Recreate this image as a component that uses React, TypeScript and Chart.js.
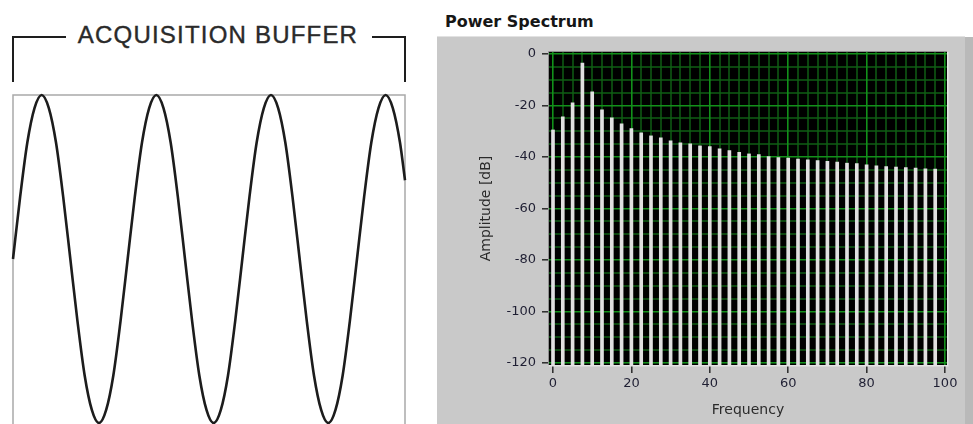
import React, { useEffect, useRef } from 'react';
import { Chart, registerables } from 'chart.js';

Chart.register(...registerables);

// ---------- Left chart: acquisition buffer (x in 1/16 cycle units, normalized amplitude) ----------
const bufferTimes = [
  0, 1, 2, 3, 4, 5, 6, 7, 8, 9, 10, 11, 12, 13, 14, 15,
  16, 17, 18, 19, 20, 21, 22, 23, 24, 25, 26, 27, 28, 29, 30, 31,
  32, 33, 34, 35, 36, 37, 38, 39, 40, 41, 42, 43, 44, 45, 46, 47,
  48, 49, 50, 51, 52, 53, 54, 54.7,
];
const bufferValues = [
  0, 0.38, 0.71, 0.92, 1, 0.92, 0.71, 0.38, 0, -0.38, -0.71, -0.92, -1, -0.92, -0.71, -0.38,
  0, 0.38, 0.71, 0.92, 1, 0.92, 0.71, 0.38, 0, -0.38, -0.71, -0.92, -1, -0.92, -0.71, -0.38,
  0, 0.38, 0.71, 0.92, 1, 0.92, 0.71, 0.38, 0, -0.38, -0.71, -0.92, -1, -0.92, -0.71, -0.38,
  0, 0.38, 0.71, 0.92, 1, 0.92, 0.71, 0.48,
];

// ---------- Right chart: power spectrum ----------
const freqBins = [
  0, 2.5, 5, 7.5, 10, 12.5, 15, 17.5, 20, 22.5, 25, 27.5, 30, 32.5, 35, 37.5,
  40, 42.5, 45, 47.5, 50, 52.5, 55, 57.5, 60, 62.5, 65, 67.5, 70, 72.5, 75, 77.5,
  80, 82.5, 85, 87.5, 90, 92.5, 95, 97.5,
];
const amplitudeDb = [
  -29.5, -24.4, -19, -3.5, -14.7, -21.7, -24.8, -27.1, -29, -30.6, -31.8, -32.6, -33.7, -34.5, -34.9, -35.7,
  -36, -36.8, -37.5, -38.2, -38.8, -39.1, -39.8, -40.2, -40.4, -40.8, -41.1, -41.4, -41.7, -42, -42.4, -42.6,
  -43, -43.4, -43.7, -43.9, -44.1, -44.3, -44.6, -44.7,
];
const xTickValues = [0, 20, 40, 60, 80, 100];
const xTickLabels = ['0', '20', '40', '60', '80', '100'];
const yTickValues = [0, -20, -40, -60, -80, -100, -120];
const yTickLabels = ['0', '-20', '-40', '-60', '-80', '-100', '-120'];
const xMajorStep = 20;
const yMajorStep = 20;
const xMinorStep = 2.5;
const yMinorStep = 5;

const X_MIN = -1.02;
const X_MAX = 100.51;
const Y_MIN = -120.78;
const Y_MAX = 0.78;

const MAJOR_GRID = '#12901a';
const MINOR_GRID = '#0f5e14';
const TICK_COLOR = '#2a2a2a';
const LABEL_COLOR = '#1f1f33';
const HIDDEN = 'rgba(0,0,0,0)';

function labelFor(values: number[], labels: string[], v: number): string {
  const i = values.findIndex((t) => Math.abs(t - v) < 1e-6);
  return i >= 0 ? labels[i] : '';
}
function isMajor(values: number[], v: number): boolean {
  return values.some((t) => Math.abs(t - v) < 1e-6);
}
function onStep(v: number, step: number): boolean {
  return Math.abs(v / step - Math.round(v / step)) < 1e-6;
}

function BufferChart() {
  const ref = useRef<HTMLCanvasElement | null>(null);
  useEffect(() => {
    if (!ref.current) return;
    const boxPlugin = {
      id: 'boxPlugin',
      beforeDatasetsDraw(chart: any) {
        const { ctx, chartArea } = chart;
        ctx.save();
        ctx.strokeStyle = '#a9a9a9';
        ctx.lineWidth = 1.5;
        ctx.beginPath();
        ctx.moveTo(chartArea.left, chartArea.bottom + 5);
        ctx.lineTo(chartArea.left, chartArea.top);
        ctx.lineTo(chartArea.right, chartArea.top);
        ctx.lineTo(chartArea.right, chartArea.bottom + 5);
        ctx.stroke();
        ctx.restore();
      },
    };
    const chart = new Chart(ref.current, {
      type: 'line',
      data: {
        datasets: [
          {
            data: bufferTimes.map((t, i) => ({ x: t, y: bufferValues[i] })),
            borderColor: '#1c1c1c',
            borderWidth: 2.6,
            pointRadius: 0,
            cubicInterpolationMode: 'monotone',
            clip: false as any,
          },
        ],
      },
      options: {
        animation: false,
        responsive: false,
        layout: { padding: { left: 13, right: 15, top: 10, bottom: 1 } },
        plugins: { legend: { display: false }, tooltip: { enabled: false } },
        scales: {
          x: { type: 'linear', min: 0, max: 54.7, display: false },
          y: { type: 'linear', min: -1, max: 1, display: false },
        },
      },
      plugins: [boxPlugin],
    });
    return () => chart.destroy();
  }, []);
  return (
    <canvas
      ref={ref}
      width={420}
      height={339}
      style={{ position: 'absolute', left: 0, top: 85, width: 420, height: 339 }}
    />
  );
}

function SpectrumChart() {
  const ref = useRef<HTMLCanvasElement | null>(null);
  useEffect(() => {
    if (!ref.current) return;
    const bgPlugin = {
      id: 'plotBg',
      beforeDraw(chart: any) {
        const { ctx, chartArea } = chart;
        const { left, right, top, bottom } = chartArea;
        ctx.save();
        ctx.fillStyle = '#000000';
        ctx.fillRect(left, top, right - left, bottom - top);
        // minor grid (between the library's major grid lines)
        const xs = chart.scales.x;
        const ys = chart.scales.y;
        ctx.strokeStyle = MINOR_GRID;
        ctx.lineWidth = 1.5;
        ctx.beginPath();
        for (let v = 0; v <= 100 + 1e-9; v += xMinorStep) {
          if (onStep(v, xMajorStep)) continue;
          const px = Math.round(xs.getPixelForValue(v));
          ctx.moveTo(px, top);
          ctx.lineTo(px, bottom);
        }
        for (let v = -120; v <= 0 + 1e-9; v += yMinorStep) {
          if (onStep(v, yMajorStep)) continue;
          const py = Math.round(ys.getPixelForValue(v));
          ctx.moveTo(left, py);
          ctx.lineTo(right, py);
        }
        ctx.stroke();
        ctx.restore();
      },
      afterDraw(chart: any) {
        const { ctx, chartArea } = chart;
        ctx.save();
        ctx.strokeStyle = '#e4e4e4';
        ctx.lineWidth = 1.5;
        ctx.beginPath();
        ctx.moveTo(chartArea.right + 0.75, chartArea.top);
        ctx.lineTo(chartArea.right + 0.75, chartArea.bottom + 0.75);
        ctx.lineTo(chartArea.left, chartArea.bottom + 0.75);
        ctx.stroke();
        ctx.strokeStyle = '#8f8f8f';
        ctx.lineWidth = 1;
        ctx.beginPath();
        ctx.moveTo(chartArea.left - 0.5, chartArea.bottom);
        ctx.lineTo(chartArea.left - 0.5, chartArea.top - 0.5);
        ctx.lineTo(chartArea.right, chartArea.top - 0.5);
        ctx.stroke();
        ctx.restore();
      },
    };
    const font = { family: "'DejaVu Sans', Verdana, sans-serif", size: 13 };
    const majorX = (c: any) => !!(c.tick && isMajor(xTickValues, c.tick.value));
    const majorY = (c: any) => !!(c.tick && isMajor(yTickValues, c.tick.value));
    const chart = new Chart(ref.current, {
      type: 'bar',
      data: {
        datasets: [
          {
            data: freqBins.map((f, i) => ({ x: f, y: [Y_MIN, amplitudeDb[i]] })) as any,
            backgroundColor: '#e0e0e0',
            borderWidth: 0,
            barThickness: 3,
          },
        ],
      },
      options: {
        animation: false,
        responsive: false,
        layout: { padding: { left: 0, right: 18, top: 15, bottom: 0 } },
        plugins: { legend: { display: false }, tooltip: { enabled: false } },
        scales: {
          x: {
            type: 'linear',
            min: X_MIN,
            max: X_MAX,
            offset: false,
            afterFit(scale: any) {
              scale.height = 59;
            },
            border: { display: false },
            grid: {
              offset: false,
              color: (c: any) => (majorX(c) ? MAJOR_GRID : HIDDEN),
              lineWidth: 1.6,
              tickColor: (c: any) => (majorX(c) ? TICK_COLOR : HIDDEN),
              tickLength: 8,
              tickWidth: 1.5,
            },
            ticks: {
              stepSize: xMajorStep,
              includeBounds: false,
              autoSkip: false,
              maxRotation: 0,
              padding: 3,
              color: LABEL_COLOR,
              font,
              callback: (v: any) => labelFor(xTickValues, xTickLabels, Number(v)),
            },
            title: {
              display: true,
              text: 'Frequency',
              color: '#2b2b2b',
              font: { family: "'DejaVu Sans', Verdana, sans-serif", size: 14 },
              padding: { top: 0, bottom: 5 },
            },
          },
          y: {
            type: 'linear',
            min: Y_MIN,
            max: Y_MAX,
            afterFit(scale: any) {
              scale.width = 112;
            },
            border: { display: false },
            grid: {
              offset: false,
              color: (c: any) => (majorY(c) ? MAJOR_GRID : HIDDEN),
              lineWidth: 1.6,
              tickColor: (c: any) => (majorY(c) ? TICK_COLOR : HIDDEN),
              tickLength: 7,
              tickWidth: 1.5,
            },
            ticks: {
              stepSize: yMajorStep,
              includeBounds: false,
              autoSkip: false,
              padding: 6,
              color: LABEL_COLOR,
              font,
              callback: (v: any) => labelFor(yTickValues, yTickLabels, Number(v)),
            },
            title: {
              display: true,
              text: 'Amplitude [dB]',
              color: '#2b2b2b',
              font: { family: "'DejaVu Sans', Verdana, sans-serif", size: 14 },
              padding: { top: 41, bottom: 0 },
            },
          },
        },
      },
      plugins: [bgPlugin],
    });
    return () => chart.destroy();
  }, []);
  return (
    <canvas
      ref={ref}
      width={528}
      height={387}
      style={{ position: 'absolute', left: 437, top: 37, width: 528, height: 387, background: '#c9c9c9' }}
    />
  );
}

export default function App() {
  const line = '#1e1e1e';
  return (
    <div
      style={{
        position: 'fixed',
        left: 0,
        top: 0,
        width: 973,
        height: 424,
        overflow: 'hidden',
        background: '#ffffff',
      }}
    >
      {/* bracket */}
      <div style={{ position: 'absolute', left: 12, top: 36, width: 2, height: 46, background: line }} />
      <div style={{ position: 'absolute', left: 12, top: 36, width: 54, height: 2, background: line }} />
      <div style={{ position: 'absolute', left: 372, top: 36, width: 34, height: 2, background: line }} />
      <div style={{ position: 'absolute', left: 404, top: 36, width: 2, height: 46, background: line }} />
      <div
        style={{
          position: 'absolute',
          left: 68,
          top: 23,
          width: 300,
          textAlign: 'center',
          fontFamily: "'Liberation Sans', Arial, sans-serif",
          fontSize: 24,
          lineHeight: '24px',
          letterSpacing: 1.2,
          color: '#2a2a2a',
          WebkitTextStroke: '0.4px #2a2a2a',
          whiteSpace: 'nowrap',
        }}
      >
        ACQUISITION BUFFER
      </div>
      <BufferChart />

      {/* spectrum panel */}
      <div
        style={{
          position: 'absolute',
          left: 445,
          top: 14,
          fontFamily: "'DejaVu Sans', Verdana, sans-serif",
          fontWeight: 'bold',
          fontSize: 16,
          lineHeight: '16px',
          color: '#161616',
          whiteSpace: 'nowrap',
        }}
      >
        Power Spectrum
      </div>
      <div style={{ position: 'absolute', left: 437, top: 36, width: 528, height: 1, background: '#e2e2e2' }} />
      <div style={{ position: 'absolute', left: 965, top: 37, width: 8, height: 387, background: '#b9b9b9' }} />
      <SpectrumChart />
    </div>
  );
}
